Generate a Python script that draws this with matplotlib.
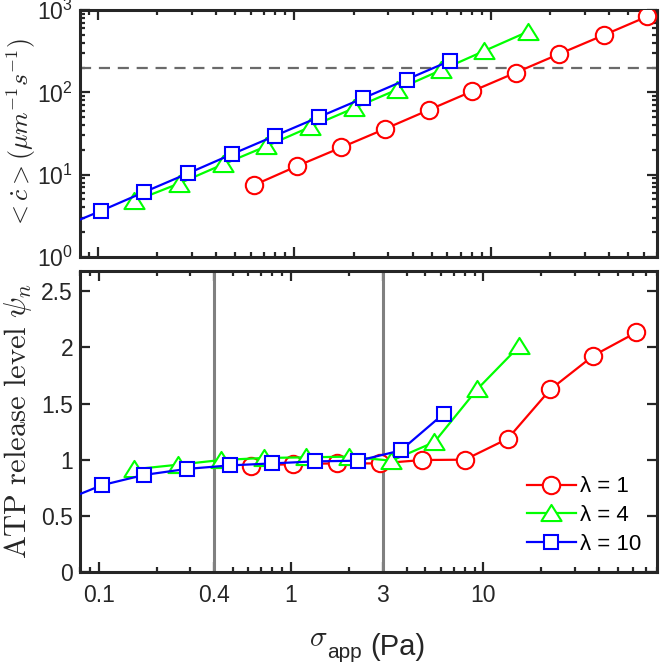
import matplotlib
matplotlib.use("Agg")
import matplotlib.pyplot as plt
from matplotlib.ticker import LogLocator, NullFormatter, FixedLocator, LogFormatterSciNotation
from matplotlib.path import Path
import numpy as np

plt.rcParams['font.family'] = ['Liberation Sans', 'DejaVu Sans']
plt.rcParams['mathtext.fontset'] = 'custom'
plt.rcParams['mathtext.rm'] = 'Liberation Sans'
plt.rcParams['mathtext.it'] = 'Liberation Sans:italic'

# ---------------- data ----------------
labels = ['λ = 1', 'λ = 4', 'λ = 10']

x_l1 = [0.621, 1.03, 1.73, 2.90, 4.82, 8.02, 13.4, 22.3, 37.4, 62.4]
c_l1 = [7.45, 12.7, 21.4, 36.1, 61, 103, 174, 293, 494, 834]
psi_l1 = [0.946, 0.961, 0.967, 0.967, 0.997, 1.0, 1.187, 1.625, 1.927, 2.133]

x_l4 = [0.153, 0.258, 0.432, 0.72, 1.20, 2.0, 3.33, 5.57, 9.27, 15.4]
c_l4 = [4.77, 7.8, 13.3, 22.2, 37.9, 64, 108, 186, 319, 545]
psi_l4 = [0.915, 0.955, 0.997, 1.015, 1.021, 1.027, 0.991, 1.157, 1.625, 2.012]

x_l10 = [0.0625, 0.104, 0.172, 0.288, 0.48, 0.80, 1.34, 2.24, 3.72, 6.21]
c_l10 = [2.2, 3.65, 6.15, 10.4, 17.7, 29.8, 50.4, 85, 143, 242]
psi_l10 = [0.62, 0.773, 0.864, 0.918, 0.949, 0.967, 0.985, 0.991, 1.082, 1.408]

c_threshold = 200
sigma_marks = [0.4, 3]
xtick_vals = [0.1, 0.4, 1, 3, 10]
xtick_labels = ['0.1', '0.4', '1', '3', '10']
ytick_vals = [0, 0.5, 1, 1.5, 2, 2.5]
ytick_labels = ['0', '0.5', '1', '1.5', '2', '2.5']

colors = ['#ff0000', '#00ff00', '#0000ff']
tri = Path([(-1, -0.75), (1, -0.75), (0, 0.85), (-1, -0.75)],
           [Path.MOVETO, Path.LINETO, Path.LINETO, Path.CLOSEPOLY])
markers = ['o', tri, 's']
msizes = [12.5, 14.5, 9.5]

axcol = '#262626'

fig = plt.figure(figsize=(6.63, 6.63), dpi=100)
W, H = 663, 663
ax1 = fig.add_axes([80 / W, 1 - 257 / H, 577 / W, 247 / H])
ax2 = fig.add_axes([80 / W, 1 - 572 / H, 577 / W, 301 / H])

series = [(x_l1, c_l1, psi_l1), (x_l4, c_l4, psi_l4), (x_l10, c_l10, psi_l10)]

for i, (xs, cs, ps) in enumerate(series):
    kw = dict(color=colors[i], lw=1.6, marker=markers[i], ms=msizes[i],
              mfc='white', mec=colors[i], mew=1.5, zorder=3 + i)
    ax1.plot(xs, cs, **kw)
    ax2.plot(xs, ps, label=labels[i], **kw)

ax1.axhline(c_threshold, color='#6a6a6a', lw=1.6, ls=(0, (5, 3.5)), zorder=2)
for s in sigma_marks:
    ax2.axvline(s, color='#808080', lw=2.2, zorder=2)

ax1.set_xscale('log')
ax1.set_yscale('log')
ax1.set_xlim(0.081, 70)
ax1.set_ylim(1, 1000)
ax1.xaxis.set_major_locator(LogLocator(base=10))
ax1.xaxis.set_minor_locator(LogLocator(base=10, subs=np.arange(2, 10)))
ax1.xaxis.set_major_formatter(NullFormatter())
ax1.xaxis.set_minor_formatter(NullFormatter())
ax1.yaxis.set_major_locator(FixedLocator([1, 10, 100, 1000]))
ax1.yaxis.set_minor_locator(LogLocator(base=10, subs=np.arange(2, 10)))
ax1.yaxis.set_major_formatter(LogFormatterSciNotation())
ax1.yaxis.set_minor_formatter(NullFormatter())

ax2.set_xscale('log')
ax2.set_xlim(0.08, 80)
ax2.set_ylim(0, 2.68)
ax2.set_xticks(xtick_vals, labels=xtick_labels)
ax2.xaxis.set_minor_locator(LogLocator(base=10, subs=np.arange(2, 10)))
ax2.xaxis.set_minor_formatter(NullFormatter())
ax2.set_yticks(ytick_vals, labels=ytick_labels)

for ax in (ax1, ax2):
    for sp in ax.spines.values():
        sp.set_linewidth(2.2)
        sp.set_color(axcol)
    ax.tick_params(which='both', direction='in', top=True, right=True,
                   colors=axcol, labelcolor=axcol, labelsize=16.5, width=1.6)
    ax.tick_params(which='major', length=7, pad=5)
    ax.tick_params(which='minor', length=3.8)
ax2.tick_params(axis='x', which='major', pad=9)

ax1.set_ylabel(r'$<\dot{c}>(\mu m^{-1}s^{-1})$', fontsize=18.5,
               math_fontfamily='cm', color=axcol)
ax1.yaxis.set_label_coords(-0.073, 0.5)
ax2.set_ylabel(r'$\mathrm{ATP\ release\ level}\ \psi_n$', fontsize=22,
               math_fontfamily='cm', color=axcol)
ax2.yaxis.set_label_coords(-0.079, 0.5)

# x label: sigma_app (Pa), composed like the reference (large subscript)
fig.text(309 / W, 1 - 646 / H, r'$\sigma$', fontsize=21, math_fontfamily='cm',
         color=axcol, ha='left', va='baseline')
fig.text(327 / W, 1 - 658 / H, 'app', fontsize=15, color=axcol,
         ha='left', va='baseline')
fig.text(370 / W, 1 - 655 / H, '(Pa)', fontsize=21, color=axcol,
         ha='left', va='baseline')

ax2.legend(loc='lower right', frameon=False, fontsize=16, handlelength=2.2,
           handletextpad=0.2, labelspacing=0.35, borderaxespad=0.3,
           bbox_to_anchor=(1.0, 0.005))

fig.savefig('out.png', dpi=100)
